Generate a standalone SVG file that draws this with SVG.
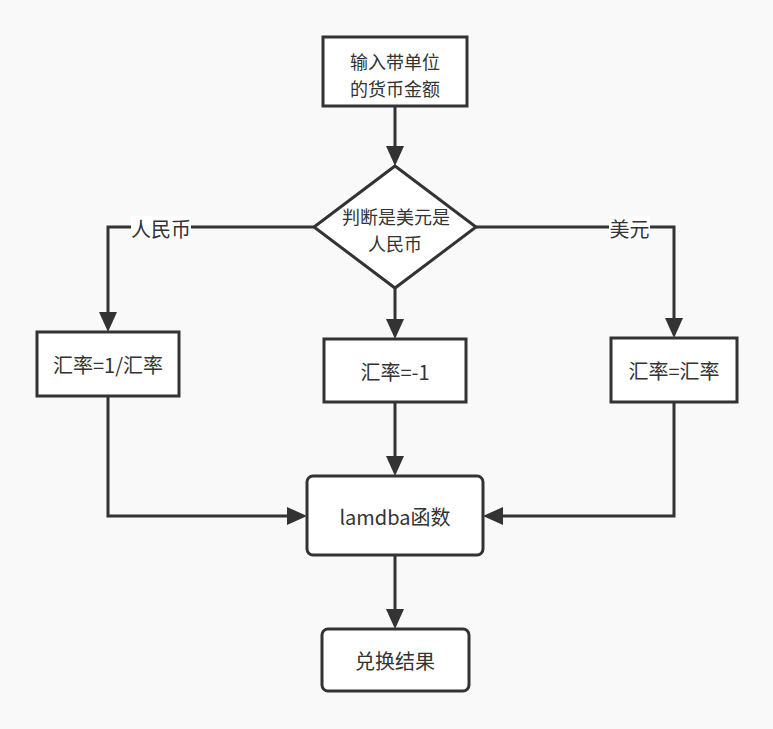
<svg xmlns="http://www.w3.org/2000/svg" width="773" height="729" viewBox="0 0 773 729">
<style>
.box{fill:#ffffff;stroke:#333333;stroke-width:3}
.t{font-family:"Noto Sans CJK SC","Liberation Sans",sans-serif;font-size:20px;fill:#333333;text-anchor:middle;dominant-baseline:central}
.t2{font-size:18px}
.c{fill:none;stroke:#333333;stroke-width:3;marker-end:url(#ah)}
.lbg{fill:#ffffff}
</style>
<defs>
<marker id="ah" markerWidth="20" markerHeight="18" viewBox="0 0 20 18" refX="16" refY="9" orient="auto" markerUnits="userSpaceOnUse">
<path d="M0,0 L20,9 L0,18 Z" fill="#333333"/>
</marker>
</defs>
<rect x="0" y="0" width="773" height="729" fill="#f9f9f9"/>
<g id="connectors">
<path class="c" d="M395 106 V162"/>
<path class="c" d="M314 227 H108 V328"/>
<path class="c" d="M476 227 H674 V334"/>
<path class="c" d="M395 288 V335"/>
<path class="c" d="M395 402 V472"/>
<path class="c" d="M108 396 V516 H303"/>
<path class="c" d="M674 402 V516 H487"/>
<path class="c" d="M395 555 V625"/>
<rect class="lbg" x="131" y="216" width="60" height="24"/>
<text class="t" x="161" y="228">人民币</text>
<rect class="lbg" x="609" y="216" width="41" height="24"/>
<text class="t" x="629.5" y="228">美元</text>
</g>
<g id="input">
<rect class="box" x="323" y="37" width="144" height="69"/>
<text class="t t2" x="395" y="60.5">输入带单位</text>
<text class="t t2" x="395" y="87.5">的货币金额</text>
</g>
<g id="decision">
<polygon class="box" points="395,166 476,227 395,288 314,227"/>
<text class="t t2" x="396" y="215.5">判断是美元是</text>
<text class="t t2" x="395" y="242.5">人民币</text>
</g>
<g id="rmb">
<rect class="box" x="37" y="332" width="142" height="64"/>
<text class="t" x="108" y="364">汇率=1/汇率</text>
</g>
<g id="other">
<rect class="box" x="324" y="339" width="142" height="63"/>
<text class="t" x="395" y="371">汇率=-1</text>
</g>
<g id="usd">
<rect class="box" x="611" y="338" width="126" height="64"/>
<text class="t" x="674" y="370">汇率=汇率</text>
</g>
<g id="lambda">
<rect class="box" x="307" y="476" width="176" height="79" rx="6"/>
<text class="t" x="395" y="516">lamdba函数</text>
</g>
<g id="result">
<rect class="box" x="322" y="629" width="147" height="62" rx="6"/>
<text class="t" x="395" y="660">兑换结果</text>
</g>
</svg>
